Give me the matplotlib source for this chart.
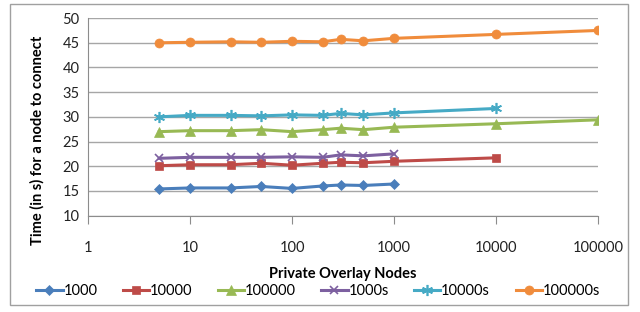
import matplotlib
matplotlib.use("Agg")
import matplotlib.pyplot as plt
from matplotlib.patches import Rectangle

plt.rcParams['font.family'] = ['Lato', 'DejaVu Sans']

# x positions (private overlay nodes)
nodes = [5, 10, 25, 50, 100, 200, 300, 500, 1000, 10000, 100000]

s_1000 = [15.4, 15.6, 15.6, 15.9, 15.5, 16.0, 16.2, 16.1, 16.4]
s_10000 = [20.1, 20.3, 20.3, 20.6, 20.2, 20.6, 20.8, 20.7, 21.0, 21.7]
s_100000 = [27.0, 27.2, 27.2, 27.4, 27.0, 27.4, 27.7, 27.4, 27.9, 28.6, 29.4]
s_1000s = [21.6, 21.8, 21.8, 21.8, 21.9, 21.8, 22.3, 22.1, 22.5]
s_10000s = [30.0, 30.3, 30.3, 30.2, 30.4, 30.3, 30.7, 30.4, 30.8, 31.7]
s_100000s = [45.0, 45.1, 45.2, 45.1, 45.3, 45.2, 45.7, 45.4, 45.9, 46.7, 47.5]

series = [
    ("1000", s_1000, "#4A7EBB", "D", 5),
    ("10000", s_10000, "#BE4B48", "s", 6),
    ("100000", s_100000, "#98B954", "^", 6.5),
    ("1000s", s_1000s, "#7D60A0", "x", 6),
    ("10000s", s_10000s, "#46AAC5", (6, 2, 0), 8),
    ("100000s", s_100000s, "#F08C3C", "o", 6.5),
]

xticks = [1, 10, 100, 1000, 10000, 100000]

fig = plt.figure(figsize=(6.4, 3.12), dpi=100)
ax = fig.add_axes([0.1375, 0.309, 0.797, 0.633])

for name, vals, col, mk, ms in series:
    mew = 1.2 if mk in ("x", (6, 2, 0)) else 0.5
    ax.plot(nodes[:len(vals)], vals, color=col, lw=2.2, marker=mk, ms=ms,
            mew=mew, mec=col, mfc=col, label=name, zorder=3)

ax.set_xscale("log")
ax.set_xlim(1, 100000)
ax.set_ylim(10, 50)
ax.set_xticks(xticks)
ax.set_xticklabels([str(v) for v in xticks])
ax.minorticks_off()
ax.set_yticks(range(10, 51, 5))
ax.grid(axis="y", color="#a6a6a6", lw=1)
ax.set_axisbelow(True)
for s in ("top", "right"):
    ax.spines[s].set_visible(False)
for s in ("left", "bottom"):
    ax.spines[s].set_color("#8c8c8c")
ax.tick_params(axis="x", length=6, colors="#8c8c8c", labelcolor="#222222", pad=12, labelsize=10.5)
ax.tick_params(axis="y", length=0, pad=6, labelsize=10.5, labelcolor="#222222")

fig.text(0.536, 1 - 274 / 312, "Private Overlay Nodes", ha="center", va="center",
         fontsize=10.5, fontweight="bold")
fig.text(0.058, 1 - 140 / 312, "Time (in s) for a node to connect", ha="center",
         va="center", rotation=90, fontsize=10.5, fontweight="bold")

ax.legend(loc="center", bbox_to_anchor=(0.497, 1 - 291 / 312), bbox_transform=fig.transFigure,
          ncol=6, frameon=False, fontsize=10.5, handlelength=1.8, handletextpad=0.05,
          columnspacing=1.75, borderaxespad=0)

fig.patches.append(Rectangle((10 / 640, 1 - 305 / 312), 618 / 640, 301 / 312,
                             transform=fig.transFigure, fill=False,
                             edgecolor="#a0a0a0", lw=1))

fig.savefig("out.png", dpi=100)
